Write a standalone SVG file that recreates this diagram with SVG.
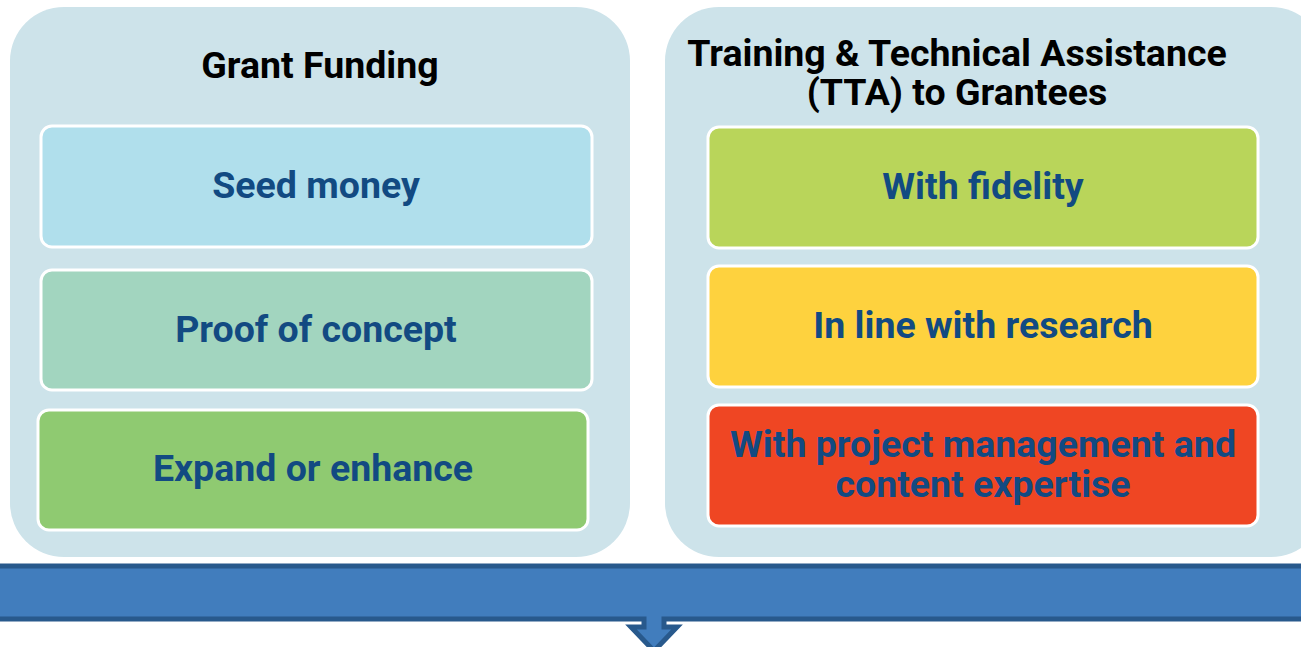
<svg xmlns="http://www.w3.org/2000/svg" width="1301" height="647" viewBox="0 0 1301 647">
<style>
.panel{fill:#CDE3EA}
.box{stroke:#FFFFFF;stroke-width:3}
.title{font-family:Roboto,"Liberation Sans",sans-serif;font-weight:bold;font-size:37.5px;fill:#000000;text-anchor:middle}
.lbl{font-family:Roboto,"Liberation Sans",sans-serif;font-weight:bold;font-size:37.5px;fill:#124A82;text-anchor:middle}
</style>
<rect width="1301" height="647" fill="#FFFFFF"/>
<g id="connectors">
<path d="M -10 566 H 1311 V 619 H 664 V 627 H 677 L 654 651 L 631 627 H 644 V 619 H -10 Z" fill="#417DBD" stroke="#28598C" stroke-width="5" stroke-linejoin="miter"/>
</g>
<g id="grant-funding">
<rect class="panel" x="10" y="7" width="620" height="550" rx="54" ry="54"/>
<text class="title" x="320" y="78">Grant Funding</text>
</g>
<g id="seed-money">
<rect class="box" x="41" y="126" width="551" height="121" rx="11" fill="#B0DFEC"/>
<text class="lbl" x="316" y="198">Seed money</text>
</g>
<g id="proof-of-concept">
<rect class="box" x="41" y="270" width="551" height="120" rx="11" fill="#A2D5BF"/>
<text class="lbl" x="316" y="342">Proof of concept</text>
</g>
<g id="expand-or-enhance">
<rect class="box" x="38" y="410" width="550" height="120" rx="11" fill="#8FCA71"/>
<text class="lbl" x="313" y="481">Expand or enhance</text>
</g>
<g id="tta">
<rect class="panel" x="665" y="7" width="660" height="550" rx="54" ry="54"/>
<text class="title" x="957" y="66">Training &amp; Technical Assistance</text>
<text class="title" x="957" y="105">(TTA) to Grantees</text>
</g>
<g id="with-fidelity">
<rect class="box" x="708" y="127" width="550" height="121" rx="11" fill="#B9D55A"/>
<text class="lbl" x="983" y="199">With fidelity</text>
</g>
<g id="in-line-with-research">
<rect class="box" x="708" y="266" width="550" height="121" rx="11" fill="#FED23E"/>
<text class="lbl" x="983" y="338">In line with research</text>
</g>
<g id="project-management">
<rect class="box" x="708" y="405" width="550" height="121" rx="11" fill="#EF4623"/>
<text class="lbl" x="983" y="457">With project management and</text>
<text class="lbl" x="983" y="497">content expertise</text>
</g>
</svg>
